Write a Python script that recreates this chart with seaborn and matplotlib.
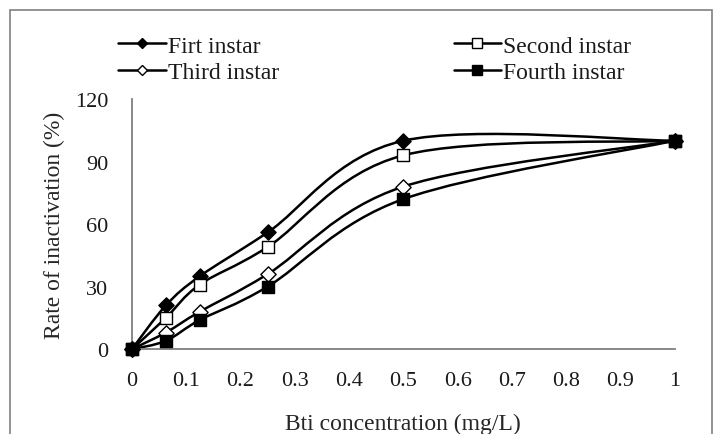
import numpy as np
import pandas as pd
import seaborn as sns
import matplotlib
matplotlib.use("Agg")
import matplotlib.pyplot as plt
from matplotlib.path import Path
from matplotlib.patches import PathPatch, Rectangle
from matplotlib.lines import Line2D

# data
concentration = [0, 0.0625, 0.125, 0.25, 0.5, 1.0]
first_instar = [0, 21, 35, 56, 100, 100]
second_instar = [0, 15, 31, 49, 93, 100]
third_instar = [0, 8, 18, 36, 78, 100]
fourth_instar = [0, 4, 14, 30, 72, 100]

series_names = ['Firt instar', 'Second instar', 'Third instar', 'Fourth instar']
series_values = [first_instar, second_instar, third_instar, fourth_instar]
x_ticks = [0, 0.1, 0.2, 0.3, 0.4, 0.5, 0.6, 0.7, 0.8, 0.9, 1]
x_ticklabels = ['0', '0.1', '0.2', '0.3', '0.4', '0.5', '0.6', '0.7', '0.8', '0.9', '1']
y_ticks = [0, 30, 60, 90, 120]

# marker style per series: (marker, facecolor)
styles = {
    'Firt instar': ('D', 'black'),
    'Second instar': ('s', 'white'),
    'Third instar': ('D', 'white'),
    'Fourth instar': ('s', 'black'),
}

sns.set_style("white")
plt.rcParams['font.family'] = ['Liberation Serif', 'DejaVu Serif']
plt.rcParams['text.color'] = '#1a1a1a'


def smooth_path(xs, ys):
    # Excel-like smoothed line: cubic bezier through the points (catmull-rom control points)
    pts = np.column_stack([xs, ys]).astype(float)
    n = len(pts)
    verts = [pts[0]]
    codes = [Path.MOVETO]
    for i in range(n - 1):
        p0 = pts[i - 1] if i > 0 else pts[i]
        p1 = pts[i]
        p2 = pts[i + 1]
        p3 = pts[i + 2] if i + 2 < n else pts[i + 1]
        c1 = p1 + (p2 - p0) / 6.0
        c2 = p2 - (p3 - p1) / 6.0
        verts += [c1, c2, p2]
        codes += [Path.CURVE4] * 3
    return Path(verts, codes)


df = pd.DataFrame({'x': concentration * 4,
                   'y': sum(series_values, []),
                   'series': np.repeat(series_names, len(concentration))})

fig = plt.figure(figsize=(7.17, 4.35), dpi=100)
ax = fig.add_axes([0.184, 0.195, 0.757, 0.575])

for name, vals in zip(series_names, series_values):
    ax.add_patch(PathPatch(smooth_path(concentration, vals), facecolor='none',
                           edgecolor='black', lw=1.8, zorder=2))
    mk, fc = styles[name]
    sub = df[df['series'] == name]
    sns.scatterplot(data=sub, x='x', y='y', marker=mk, s=75 if mk == 's' else 60,
                    color=fc, edgecolor='black', linewidth=1.0, ax=ax,
                    zorder=3, clip_on=False, legend=False)

ax.set_xlim(0, 1)
ax.set_ylim(0, 120)
ax.set_xticks(x_ticks)
ax.set_xticklabels(x_ticklabels)
ax.set_yticks(y_ticks)

sns.despine(ax=ax)
for sp in ['left', 'bottom']:
    ax.spines[sp].set_color('#7f7f7f')
    ax.spines[sp].set_linewidth(1.3)
ax.tick_params(axis='x', direction='in', length=5, width=1.2, color='#7f7f7f',
               labelsize=16, pad=16, labelcolor='#1a1a1a')
ax.tick_params(axis='y', direction='out', length=5, width=1.2, color='#7f7f7f',
               labelsize=16, pad=12, labelcolor='#1a1a1a')

ax.set_xlabel('Bti concentration (mg/L)', fontsize=17, labelpad=16)
ax.set_ylabel('Rate of inactivation (%)', fontsize=17, labelpad=7)

# legend: two columns, order so column 1 = First/Third, column 2 = Second/Fourth
order = ['Firt instar', 'Third instar', 'Second instar', 'Fourth instar']
handles = []
for name in order:
    mk, fc = styles[name]
    handles.append(Line2D([], [], color='black', lw=1.8, marker=mk,
                          markerfacecolor=fc, markeredgecolor='black',
                          markersize=6.5 if mk == 's' else 5.5))
fig.legend(handles, order, loc='upper left', bbox_to_anchor=(0.165, 0.917),
           ncol=2, frameon=False, fontsize=17, handlelength=2.0,
           handletextpad=0.1, columnspacing=7.4, labelspacing=0.2,
           borderaxespad=0, borderpad=0)

# grey frame around the chart (bottom edge is cut off in the reference)
fig.patches.append(Rectangle((10 / 717, -0.05), 702 / 717, 1.05 - 11 / 435,
                             transform=fig.transFigure, fill=False,
                             edgecolor='#808080', lw=1.2))

fig.savefig('out.png', dpi=100)
